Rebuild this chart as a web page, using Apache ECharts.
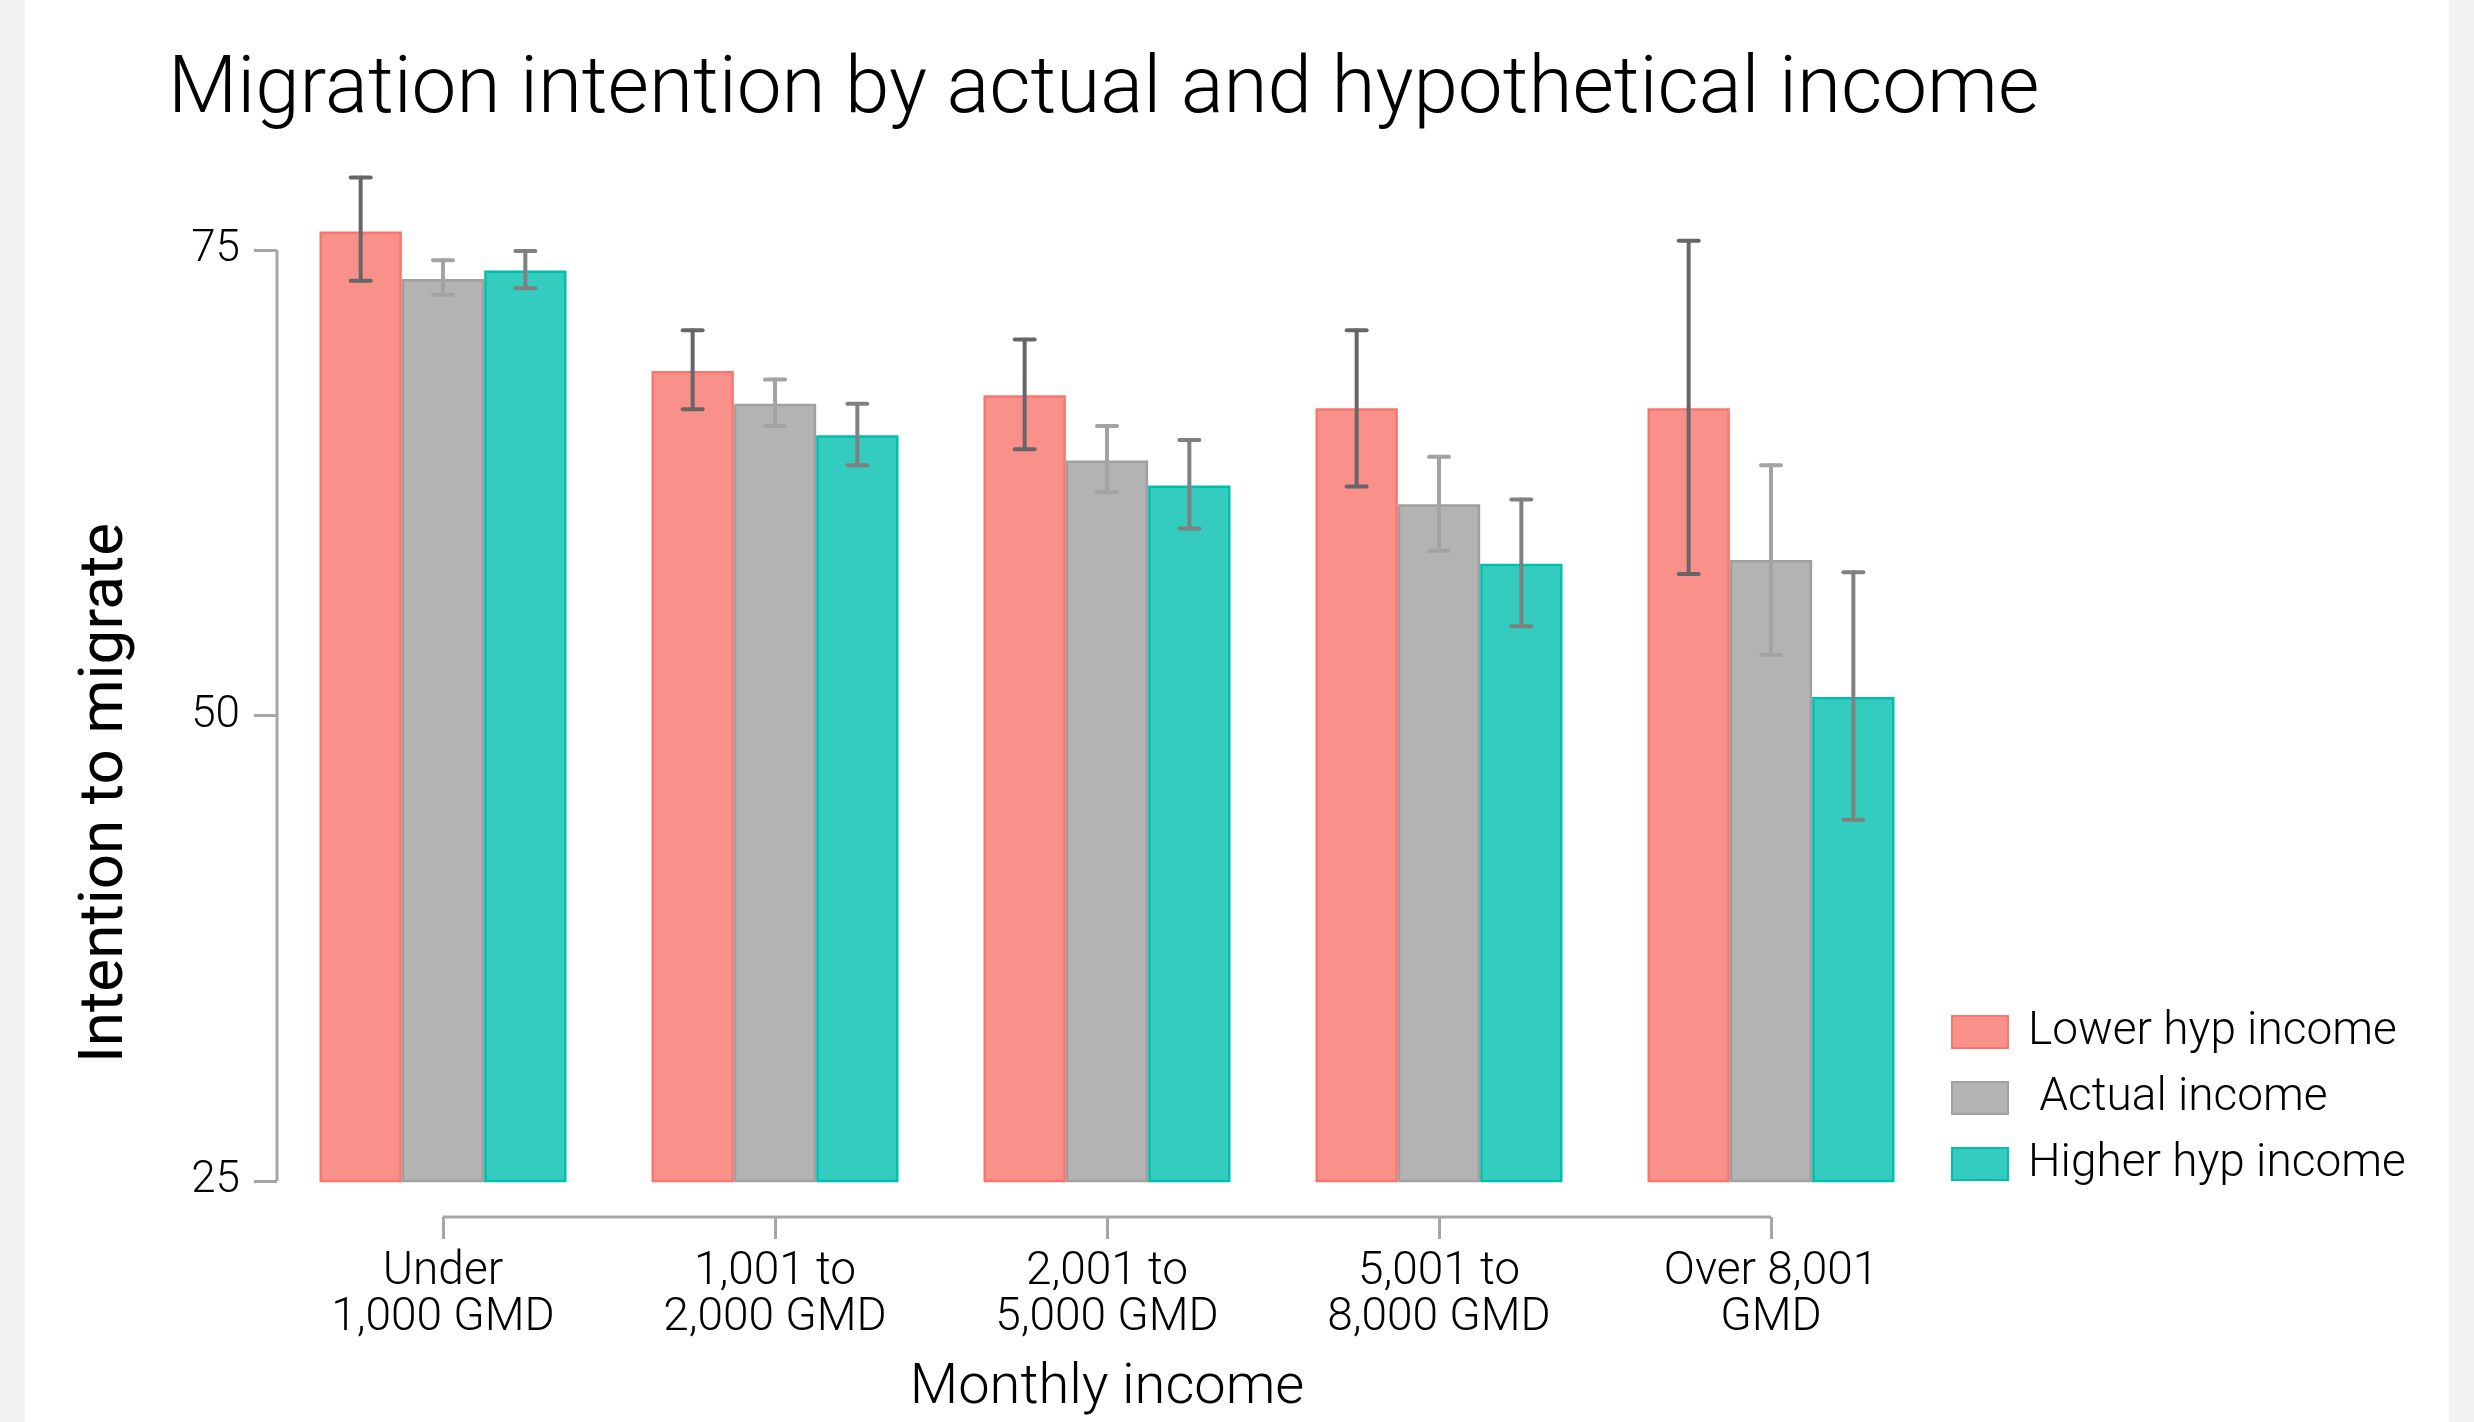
<!DOCTYPE html>
<html>
<head>
<meta charset="utf-8">
<script src="https://cdn.jsdelivr.net/npm/echarts@6/dist/echarts.min.js"></script>
<style>
html,body{margin:0;padding:0;background:#F2F2F2;width:2474px;height:1422px;overflow:hidden;}
#panel{position:absolute;left:25px;top:0;width:2424px;height:1422px;background:#fff;}
#chart{position:absolute;left:0;top:0;width:2474px;height:1422px;}
</style>
</head>
<body>
<div id="panel"></div>
<div id="chart"></div>
<script>
const categories = ['Under\n1,000 GMD', '1,001 to\n2,000 GMD', '2,001 to\n5,000 GMD', '5,001 to\n8,000 GMD', 'Over 8,001\nGMD'];
const seriesNames = ['Lower hyp income', ' Actual income', 'Higher hyp income'];
const lowerVals = [76.0, 68.5, 67.2, 66.5, 66.5];
const lowerLo   = [73.35, 66.45, 64.3, 62.3, 57.6];
const lowerHi   = [78.9, 70.7, 70.2, 70.7, 75.5];
const actualVals = [73.45, 66.75, 63.7, 61.35, 58.35];
const actualLo   = [72.6, 65.55, 62.0, 58.85, 53.25];
const actualHi   = [74.45, 68.05, 65.55, 63.9, 63.45];
const higherVals = [73.9, 65.05, 62.35, 58.15, 51.0];
const higherLo   = [72.95, 63.45, 60.05, 54.8, 44.4];
const higherHi   = [74.95, 66.75, 64.8, 61.6, 57.7];
const yTicks = [25, 50, 75];

const FONT = 'Roboto';
const fills = ['#F9918A', '#B3B3B3', '#33CCBF'];
const borders = ['#F8766D', '#A0A0A0', '#00BFAF'];
const errColors = ['#666666', '#A3A3A3', '#808080'];
const axisColor = '#A6A6A6';
const GAP = 0.256;

const chart = echarts.init(document.getElementById('chart'), null, {renderer: 'canvas'});

function errSeries(idx, lo, hi) {
  return {
    type: 'custom',
    name: 'err' + idx,
    z: 5,
    data: lo.map((v, i) => [i, v, hi[i]]),
    encode: {x: 0, y: [1, 2]},
    renderItem: function (params, api) {
      const c = api.value(0);
      const pHi = api.coord([c, api.value(2)]);
      const pLo = api.coord([c, api.value(1)]);
      const band = api.size([1, 0])[0];
      const bw = band * (1 - GAP) / 3;
      const x = pHi[0] + (idx - 1) * bw;
      const h = 10;
      const st = {stroke: errColors[idx], lineWidth: 4, lineCap: 'round'};
      return {
        type: 'group',
        children: [
          {type: 'line', shape: {x1: x, y1: pHi[1], x2: x, y2: pLo[1]}, style: st},
          {type: 'line', shape: {x1: x - h, y1: pHi[1], x2: x + h, y2: pHi[1]}, style: st},
          {type: 'line', shape: {x1: x - h, y1: pLo[1], x2: x + h, y2: pLo[1]}, style: st}
        ]
      };
    }
  };
}

const frameSeries = {
  type: 'custom',
  name: 'frame',
  silent: true,
  clip: false,
  data: [[0]],
  renderItem: function (params, api) {
    const band = api.size([1, 0])[0];
    const p75 = api.coord([0, yTicks[yTicks.length - 1]]);
    const p25 = api.coord([0, yTicks[0]]);
    const pLast = api.coord([categories.length - 1, yTicks[0]]);
    const xl = p25[0] - band / 2;
    const xAxisY = p25[1] + 36;
    const st = {stroke: axisColor, lineWidth: 3};
    return {
      type: 'group',
      children: [
        {type: 'line', shape: {x1: xl, y1: p75[1], x2: xl, y2: p25[1]}, style: st},
        {type: 'line', shape: {x1: p25[0], y1: xAxisY, x2: pLast[0], y2: xAxisY}, style: st}
      ]
    };
  }
};

function barSeries(idx, vals) {
  return {
    type: 'bar',
    name: seriesNames[idx],
    data: vals,
    barGap: '0%',
    barCategoryGap: (GAP * 100) + '%',
    itemStyle: {color: fills[idx], borderColor: borders[idx], borderWidth: 2.5},
    emphasis: {disabled: true}
  };
}

const option = {
  animation: false,
  backgroundColor: 'transparent',
  textStyle: {fontFamily: FONT, fontWeight: 300},
  title: {
    text: 'Migration intention by actual and hypothetical income',
    left: 163, top: 47,
    textStyle: {fontFamily: FONT, fontWeight: 300, fontSize: 80, color: '#000'}
  },
  legend: {
    data: seriesNames,
    orient: 'vertical',
    left: 1946, top: 1004,
    icon: 'rect',
    itemWidth: 56, itemHeight: 32, itemGap: 20,
    textStyle: {fontFamily: FONT, fontWeight: 300, fontSize: 46, color: '#000', padding: [0, 0, 0, 15]}
  },
  grid: {left: 277, width: 1660, top: 157, bottom: 1422 - 1189, containLabel: false},
  xAxis: {
    type: 'category',
    data: categories,
    offset: 36,
    axisLine: {show: false},
    axisTick: {show: true, alignWithLabel: true, length: 22, lineStyle: {color: axisColor, width: 3}},
    axisLabel: {fontFamily: FONT, fontWeight: 300, fontSize: 46, lineHeight: 46, color: '#000', margin: 32},
    name: 'Monthly income',
    nameLocation: 'middle',
    nameGap: 144,
    nameTextStyle: {fontFamily: FONT, fontWeight: 300, fontSize: 56, color: '#000'}
  },
  yAxis: {
    type: 'value',
    min: 25, max: 80,
    splitLine: {show: false},
    axisLine: {show: false},
    axisTick: {show: true, length: 23, customValues: yTicks, lineStyle: {color: axisColor, width: 3}},
    axisLabel: {fontFamily: FONT, fontWeight: 300, fontSize: 44, color: '#000', margin: 37, customValues: yTicks}
  },
  graphic: [{
    type: 'text',
    x: 106, y: 793,
    rotation: Math.PI / 2,
    style: {text: 'Intention to migrate', fontFamily: FONT, fontWeight: 400, fontSize: 62, fill: '#000', align: 'center', verticalAlign: 'middle'}
  }],
  series: [
    frameSeries,
    barSeries(0, lowerVals),
    barSeries(1, actualVals),
    barSeries(2, higherVals),
    errSeries(0, lowerLo, lowerHi),
    errSeries(1, actualLo, actualHi),
    errSeries(2, higherLo, higherHi)
  ]
};
chart.setOption(option);
</script>
</body>
</html>
